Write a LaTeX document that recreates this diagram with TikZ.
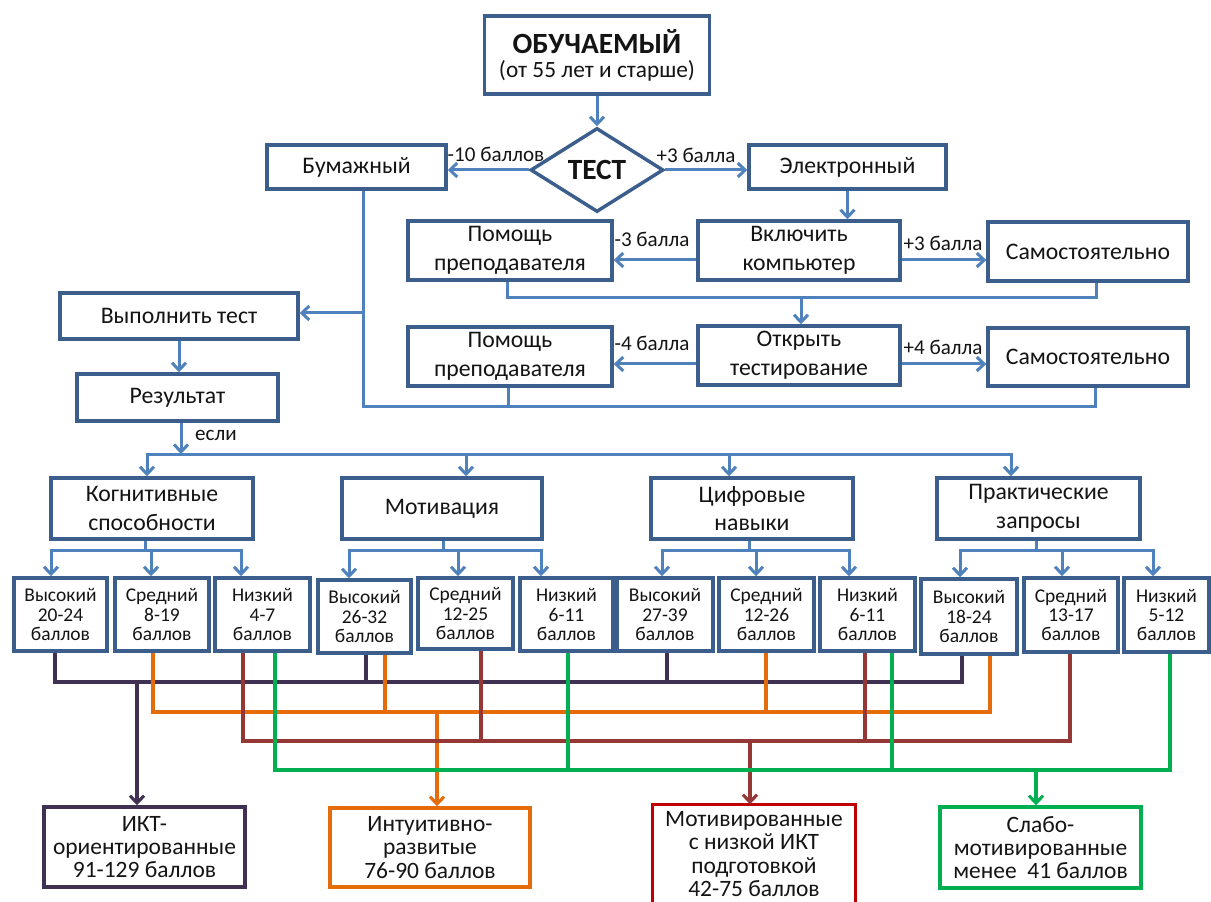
\documentclass[tikz,border=0pt]{standalone}
\usepackage{fontspec}
\setmainfont{Carlito}
\usetikzlibrary{shapes.geometric,arrows.meta}
\definecolor{bxb}{HTML}{3B5E8C}
\definecolor{arb}{HTML}{4F81BD}
\definecolor{cpur}{HTML}{403152}
\definecolor{corg}{HTML}{E46C0A}
\definecolor{cbrn}{HTML}{953735}
\definecolor{cgrn}{HTML}{00B050}
\definecolor{cred}{HTML}{C00000}
\definecolor{txt}{HTML}{141414}
\begin{document}
\begin{tikzpicture}[x=0.75pt,y=-0.75pt,
 box/.style={draw=bxb,line width=2.6pt,fill=white,inner sep=0pt,align=center,text=txt},
 wh/.style 2 args={minimum width=#1*0.75pt,minimum height=#2*0.75pt},
 fbig/.style={font=\fontsize{17.8}{21.5}\selectfont},
 fsub/.style={font=\fontsize{14.6}{14.3}\selectfont},
 flab/.style={font=\fontsize{15.8}{18}\selectfont,text=txt,inner sep=0pt},
 fbot/.style={font=\fontsize{17.6}{17.5}\selectfont},
 arr/.style={draw=arb,line width=2.25pt,line join=miter,-{Straight Barb[length=5.5pt,width=10.5pt]}},
 ln/.style={draw=arb,line width=2.25pt,line join=miter},
 cl/.style={line width=2.3pt,draw=#1,line join=miter},
 carr/.style={line width=2.3pt,draw=#1,-{Straight Barb[length=5.5pt,width=10.5pt]}},
]
\useasboundingbox (0,0) rectangle (1211,902);
\fill[white] (0,0) rectangle (1211,902);

% ---------- top part ----------
\node[box,wh={225}{78}] (top) at (597,55)
  {{\fontsize{22}{24}\selectfont\bfseries ОБУЧАЕМЫЙ}\\[4pt]{\fontsize{17.5}{20}\selectfont (от 55 лет и старше)}};
\node[draw=bxb,line width=2.6pt,fill=white,diamond,inner sep=0pt,wh={133}{84},text=txt,
  font=\fontsize{22}{24}\selectfont\bfseries] (test) at (597,170) {ТЕСТ};
\node[box,fbig,wh={179}{44}] (paper) at (356.5,167) {Бумажный};
\node[box,fbig,wh={197}{44}] (elec) at (847.5,167) {Электронный};
\node[box,fbig,wh={204}{59}] (help1) at (510,250.5) {Помощь\\преподавателя};
\node[box,fbig,wh={202}{59}] (vkl) at (799,250.5) {Включить\\компьютер};
\node[box,fbig,wh={200}{59}] (self1) at (1088,251.5) {Самостоятельно};
\node[box,fbig,wh={204}{59}] (help2) at (510,356.5) {Помощь\\преподавателя};
\node[box,fbig,wh={202}{59}] (open) at (799,355.5) {Открыть\\тестирование};
\node[box,fbig,wh={200}{58}] (self2) at (1088,357) {Самостоятельно};
\node[box,fbig,wh={238}{46}] (run) at (179,316) {Выполнить тест};
\node[box,fbig,wh={201}{47}] (res) at (177.5,397.5) {Результат};

\node[flab] (l1) at (496,154) {-10 баллов};
\node[flab] (l2) at (696,155) {+3 балла};
\node[flab] (l3) at (652,239) {-3 балла};
\node[flab] (l4) at (943,243) {+3 балла};
\node[flab] (l5) at (652,343) {-4 балла};
\node[flab] (l6) at (943,347) {+4 балла};
\node[flab] (l7) at (216,435) {если};

\draw[arr] (top.south) -- (test.north);
\draw[arr] (test.west) -- (test.west -| paper.east);
\draw[arr] (test.east) -- (test.east -| elec.west);
\draw[arr] (elec.south) -- (elec.south |- vkl.north);
\draw[arr] (vkl.west |- 0,260) -- (help1.east |- 0,260);
\draw[arr] (vkl.east |- 0,260) -- (self1.west |- 0,260);
\draw[ln] (help1.south -| 507,0) -- (507,298) -- (1096,298) -- (self1.south -| 1096,0);
\draw[arr] (801,298) -- (open.north -| 801,0);
\draw[arr] (open.west |- 0,364) -- (help2.east |- 0,364);
\draw[arr] (open.east |- 0,364) -- (self2.west |- 0,364);
\draw[ln] (paper.south -| 363,0) -- (363,407) -- (1095,407) -- (self2.south -| 1095,0);
\draw[ln] (help2.south -| 508,0) -- (508,407);
\draw[arr] (363,313) -- (run.east |- 0,313);
\draw[arr] (run.south -| 179,0) -- (res.north -| 179,0);
\draw[arr] (res.south -| 181,0) -- (181,454);

% ---------- categories ----------
\node[box,fbig,wh={202}{61}] (cat1) at (152,508.5) {Когнитивные\\способности};
\node[box,fbig,wh={200}{61}] (cat2) at (442,508.5) {Мотивация};
\node[box,fbig,wh={202}{61}] (cat3) at (752,508.5) {Цифровые\\навыки};
\node[box,fbig,wh={203}{61}] (cat4) at (1038.5,508.5) {Практические\\запросы};

\draw[arr] (466,454) -| (cat1.north -| 147,0);
\draw[arr] (466,454) -- (cat2.north -| 466,0);
\draw[arr] (466,454) -| (cat3.north -| 729,0);
\draw[arr] (729,454) -| (cat4.north -| 1011,0);

% ---------- sub boxes ----------
\node[box,fsub,wh={93}{73}] (b1) at (60.5,614.5) {Высокий\\20-24\\баллов};
\node[box,fsub,wh={94}{73}] (b2) at (162,614.5) {Средний\\8-19\\баллов};
\node[box,fsub,wh={95}{73}] (b3) at (262.5,614.5) {Низкий\\4-7\\баллов};
\node[box,fsub,wh={93}{73}] (b4) at (364.5,616.5) {Высокий\\26-32\\баллов};
\node[box,fsub,wh={95}{71}] (b5) at (465.5,613.5) {Средний\\12-25\\баллов};
\node[box,fsub,wh={93}{73}] (b6) at (566.5,614.5) {Низкий\\6-11\\баллов};
\node[box,fsub,wh={96}{73}] (b7) at (665,614.5) {Высокий\\27-39\\баллов};
\node[box,fsub,wh={95}{73}] (b8) at (766.5,614.5) {Средний\\12-26\\баллов};
\node[box,fsub,wh={95}{73}] (b9) at (867.5,614.5) {Низкий\\6-11\\баллов};
\node[box,fsub,wh={96}{75}] (b10) at (969,616.5) {Высокий\\18-24\\баллов};
\node[box,fsub,wh={94}{74}] (b11) at (1071,615) {Средний\\13-17\\баллов};
\node[box,fsub,wh={85}{74}] (b12) at (1166.5,615) {Низкий\\5-12\\баллов};

\draw[arr] (cat1.south -| 145,0) -- (145,550) -| (b1.north -| 51,0);
\draw[arr] (145,550) -| (b3.north -| 241,0);
\draw[arr] (151,550) -- (b2.north -| 151,0);
\draw[arr] (cat2.south -| 443,0) -- (443,550) -| (b4.north -| 349,0);
\draw[arr] (443,550) -| (b6.north -| 541,0);
\draw[arr] (458,550) -- (b5.north -| 458,0);
\draw[arr] (cat3.south -| 749,0) -- (749,550) -| (b7.north -| 662,0);
\draw[arr] (749,550) -| (b9.north -| 849,0);
\draw[arr] (756,550) -- (b8.north -| 756,0);
\draw[arr] (cat4.south -| 1036,0) -- (1036,550) -| (b10.north -| 960,0);
\draw[arr] (1036,550) -| (b12.north -| 1153,0);
\draw[arr] (1062,550) -- (b11.north -| 1062,0);

% ---------- result boxes ----------
\node[box,draw=cpur,fbot,wh={201}{80}] (ikt) at (144.5,847) {ИКТ-\\ориентированные\\91-129 баллов};
\node[box,draw=corg,fbot,wh={200}{79}] (intu) at (430,847.5) {Интуитивно-\\развитые\\76-90 баллов};
\node[box,draw=none,fbot,wh={200}{96}] (motiv) at (754,854) {Мотивированные\\с низкой ИКТ\\подготовкой\\42-75 баллов};
\draw[line width=2.6pt,draw=cred,line join=miter] ([yshift=-8pt]motiv.south west) -- (motiv.north west)
  -- (motiv.north east) -- ([yshift=-8pt]motiv.south east);
\node[box,draw=cgrn,fbot,wh={201}{81}] (slabo) at (1040.5,847.5) {Слабо-\\мотивированные\\менее~ 41 баллов};

% ---------- coloured connections ----------
\draw[cl=cpur] (b1.south -| 55,0) -- (55,682) -- (962,682) -- (b10.south -| 962,0);
\draw[cl=cpur] (b4.south -| 366,0) -- (366,682);
\draw[cl=cpur] (b7.south -| 667,0) -- (667,682);
\draw[carr=cpur] (137,682) -- (ikt.north -| 137,0);

\draw[cl=corg] (b2.south -| 153,0) -- (153,712) -- (990,712) -- (b10.south -| 990,0);
\draw[cl=corg] (b4.south -| 385,0) -- (385,712);
\draw[cl=corg] (b8.south -| 766,0) -- (766,712);
\draw[carr=corg] (437,712) -- (intu.north -| 437,0);

\draw[cl=cbrn] (b3.south -| 243,0) -- (243,741) -- (1070,741) -- (b11.south -| 1070,0);
\draw[cl=cbrn] (b5.south -| 481,0) -- (481,741);
\draw[cl=cbrn] (b9.south -| 865,0) -- (865,741);
\draw[carr=cbrn] (750,741) -- (motiv.north -| 750,0);

\draw[cl=cgrn] (b3.south -| 275,0) -- (275,770) -- (1170,770) -- (b12.south -| 1170,0);
\draw[cl=cgrn] (b6.south -| 568,0) -- (568,770);
\draw[cl=cgrn] (b9.south -| 892,0) -- (892,770);
\draw[carr=cgrn] (1036,770) -- (slabo.north -| 1036,0);
\end{tikzpicture}
\end{document}
